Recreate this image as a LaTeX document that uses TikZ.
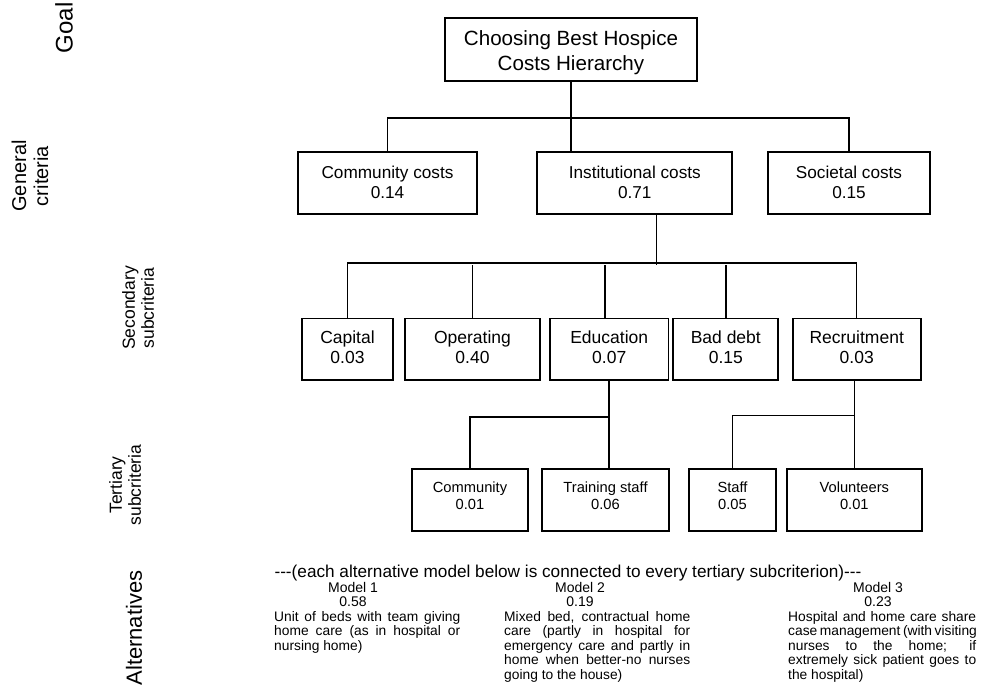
\documentclass[tikz,border=0pt]{standalone}
\usepackage{fontspec}
\setmainfont{Liberation Sans}
\begin{document}
\begin{tikzpicture}[x=1pt,y=-1pt,
  box/.style={draw, line width=1.7pt, inner sep=0pt},
  conn/.style={line width=1.5pt},
  btxt/.style={inner sep=0pt, align=center},
  fgoal/.style={font=\fontsize{20.6}{25}\selectfont},
  fgen/.style={font=\fontsize{17.2}{20}\selectfont},
  fsec/.style={font=\fontsize{17.5}{19.5}\selectfont},
  fter/.style={font=\fontsize{14.7}{16.7}\selectfont},
  lvl/.style={rotate=90, inner sep=0pt, align=center},
  txt/.style={inner sep=0pt, anchor=base},
  fmod/.style={font=\fontsize{14}{15}\selectfont},
  desc/.style={inner sep=0pt, anchor=base west, font=\fontsize{13.8}{14.5}\selectfont},
]
\useasboundingbox (0,0) rectangle (981,696);

% level labels
\node[lvl, font=\fontsize{24}{26}\selectfont] (lgoal) at (64,28) {Goal};
\node[lvl, font=\fontsize{20}{22}\selectfont] (lgen) at (30,176) {General\\criteria};
\node[lvl, font=\fontsize{17.5}{19}\selectfont] (lsec) at (138,308) {Secondary\\subcriteria};
\node[lvl, font=\fontsize{17.5}{19}\selectfont] (lter) at (125,485) {Tertiary\\subcriteria};
\node[lvl, font=\fontsize{22}{24}\selectfont] (lalt) at (134,628) {Alternatives};

% goal
\node[box, minimum width=252pt, minimum height=63.3pt] (goal) at (571,49.3) {};
\node[btxt, fgoal] (goalt) at ([yshift=-3.4pt]goal.center) {Choosing Best Hospice\\Costs Hierarchy};

% general criteria
\node[box, minimum width=178.4pt, minimum height=62pt] (comm) at (387.5,183.3) {};
\node[box, minimum width=195pt, minimum height=62pt] (inst) at (634.8,183.3) {};
\node[box, minimum width=161.7pt, minimum height=62pt] (soc) at (849,183.3) {};
\node[btxt, fgen] (commt) at ([yshift=1.2pt]comm.center) {Community costs\\0.14};
\node[btxt, fgen] (instt) at ([yshift=1.2pt]inst.center) {Institutional costs\\0.71};
\node[btxt, fgen] (soct) at ([yshift=1.2pt]soc.center) {Societal costs\\0.15};

\draw[conn] (goal.south) -- (goal.south |- inst.north);
\draw[conn] (comm.north) -- ++(0,-33.3) -| (soc.north);

% secondary
\node[box, minimum width=91.6pt, minimum height=61.7pt] (cap) at (347.5,349.2) {};
\node[box, minimum width=135pt, minimum height=61.7pt] (op) at (472.5,349.2) {};
\node[box, minimum width=118.3pt, minimum height=61.7pt] (edu) at (609.2,349.2) {};
\node[box, minimum width=105pt, minimum height=61.7pt] (bad) at (725.8,349.2) {};
\node[box, minimum width=128pt, minimum height=61.7pt] (rec) at (856.7,349.2) {};
\node[btxt, fsec] (capt) at ([yshift=1.8pt]cap.center) {Capital\\0.03};
\node[btxt, fsec] (opt) at ([yshift=1.8pt]op.center) {Operating\\0.40};
\node[btxt, fsec] (edut) at ([yshift=1.8pt]edu.center) {Education\\0.07};
\node[btxt, fsec] (badt) at ([yshift=1.8pt]bad.center) {Bad debt\\0.15};
\node[btxt, fsec] (rect) at ([yshift=1.8pt]rec.center) {Recruitment\\0.03};

\draw[conn] ([xshift=21.9pt]inst.south) -- ++(0,49.7) coordinate (s0);
\draw[conn] (cap.north) -- ++(0,-54.3) -| (rec.north);
\draw[conn] (op.north) -- (op.north |- s0);
\draw[conn] ([xshift=-4pt]edu.north) -- ([xshift=-4pt]edu.north |- s0);
\draw[conn] (bad.north) -- (bad.north |- s0);

% tertiary
\node[box, minimum width=116.6pt, minimum height=61.4pt] (tcom) at (470,500) {};
\node[box, minimum width=127.6pt, minimum height=61.4pt] (ttr) at (605.5,500) {};
\node[box, minimum width=86.4pt, minimum height=61.4pt] (tsta) at (732.5,500) {};
\node[box, minimum width=135.3pt, minimum height=61.4pt] (tvol) at (854.3,500) {};
\node[btxt, fter] (tcomt) at ([yshift=4.2pt]tcom.center) {Community\\0.01};
\node[btxt, fter] (ttrt) at ([yshift=4.2pt]ttr.center) {Training staff\\0.06};
\node[btxt, fter] (tstat) at ([yshift=4.2pt]tsta.center) {Staff\\0.05};
\node[btxt, fter] (tvolt) at ([yshift=4.2pt]tvol.center) {Volunteers\\0.01};

\draw[conn] (edu.south) -- ++(0,36) -| (tcom.north);
\draw[conn] (edu.south) -- (edu.south |- ttr.north);
\draw[conn] ([xshift=-2.4pt]rec.south) -- ++(0,34.7) -| (tsta.north);
\draw[conn] ([xshift=-2.4pt]rec.south) -- ([xshift=-2.4pt]rec.south |- tvol.north);

% alternatives
\node[txt, font=\fontsize{17.2}{18}\selectfont] (hdr) at (568,577) {-{}-{}-(each alternative model below is connected to every tertiary subcriterion)-{}-{}-};

\node[txt, fmod] (m1) at (353,592) {Model 1};
\node[txt, fmod] (v1) at (353,606.5) {0.58};
\node[txt, fmod] (m2) at (580,592) {Model 2};
\node[txt, fmod] (v2) at (580,606.5) {0.19};
\node[txt, fmod] (m3) at (878,592) {Model 3};
\node[txt, fmod] (v3) at (878,606.5) {0.23};

\node[desc] (d1a) at (274,621) {\makebox[186pt][s]{Unit of beds with team giving}};
\node[desc] (d1b) at (274,635.5) {\makebox[186pt][s]{home care (as in hospital or}};
\node[desc] (d1c) at (274,650) {nursing home)};

\node[desc] (d2a) at (504,621) {\makebox[186pt][s]{Mixed bed, contractual home}};
\node[desc] (d2b) at (504,635.5) {\makebox[186pt][s]{care (partly in hospital for}};
\node[desc] (d2c) at (504,650) {\makebox[186pt][s]{emergency care and partly in}};
\node[desc] (d2d) at (504,664.5) {\makebox[186pt][s]{home when better-no nurses}};
\node[desc] (d2e) at (504,679) {going to the house)};

\node[desc] (d3a) at (788,621) {\makebox[188pt][s]{Hospital and home care share}};
\node[desc] (d3b) at (788,635.5) {\makebox[188pt][s]{case management (with visiting}};
\node[desc] (d3c) at (788,650) {\makebox[188pt][s]{nurses to the home; if}};
\node[desc] (d3d) at (788,664.5) {\makebox[188pt][s]{extremely sick patient goes to}};
\node[desc] (d3e) at (788,679) {the hospital)};
\end{tikzpicture}
\end{document}
